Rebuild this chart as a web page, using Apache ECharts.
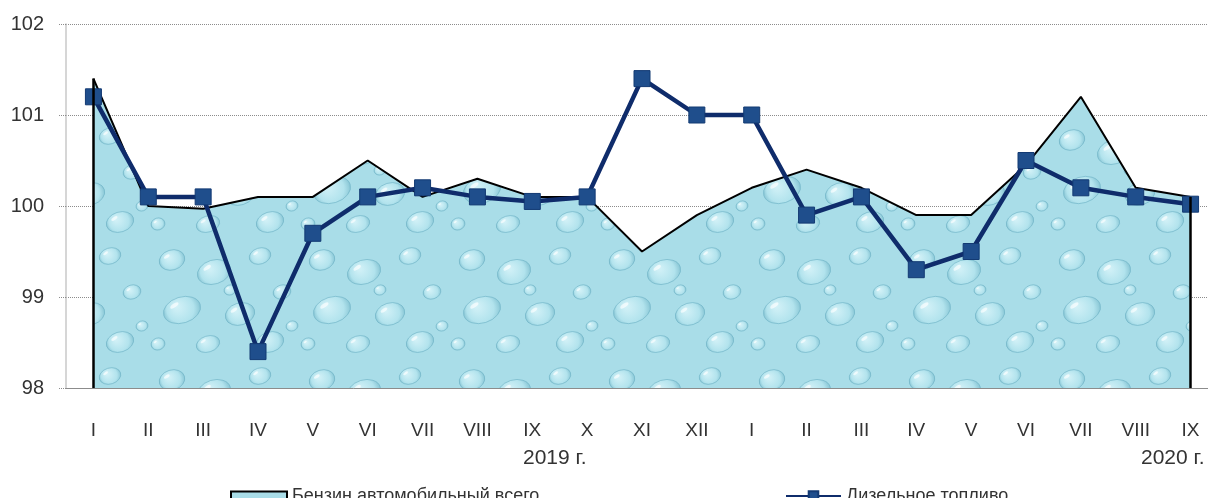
<!DOCTYPE html>
<html>
<head>
<meta charset="utf-8">
<script src="https://cdn.jsdelivr.net/npm/echarts@6/dist/echarts.min.js"></script>
<style>
  html, body { margin: 0; padding: 0; background: #fff; overflow: hidden; }
  #chart { width: 1218px; height: 498px; }
</style>
</head>
<body>
<div id="chart"></div>
<script>
// месяцы 2019 (I-XII) и 2020 (I-IX)
var months = ['I','II','III','IV','V','VI','VII','VIII','IX','X','XI','XII',
              'I','II','III','IV','V','VI','VII','VIII','IX'];
var petrol = [101.4, 100.0, 99.97, 100.1, 100.1, 100.5, 100.1, 100.3, 100.1, 100.1, 99.5, 99.9,
              100.2, 100.4, 100.2, 99.9, 99.9, 100.45, 101.2, 100.2, 100.1];
var diesel = [101.2, 100.1, 100.1, 98.4, 99.7, 100.1, 100.2, 100.1, 100.05, 100.1, 101.4, 101.0,
              101.0, 99.9, 100.1, 99.3, 99.5, 100.5, 100.2, 100.1, 100.02];
var seriesNames = ['Бензин автомобильный всего', 'Дизельное топливо'];
var yearLabels = ['2019 г.', '2020 г.'];
var yMin = 98, yMax = 102;

var FONT = '"Liberation Sans", Arial, sans-serif';
var TXT = '#333';

// текстура "капли воды" для заливки
function makeDrops() {
  var c = document.createElement('canvas');
  c.width = 150; c.height = 120;
  var g = c.getContext('2d');
  g.fillStyle = '#a9dde8';
  g.fillRect(0, 0, 150, 120);
  var drops = [[22,20,13,10],[64,32,17,12],[110,16,11,8],[32,70,19,13],[90,74,15,11],
               [132,52,9,7],[58,104,12,8],[120,102,14,10],[8,104,7,6],[80,50,6,5],[142,86,6,5]];
  drops.forEach(function (d) {
    var gr = g.createRadialGradient(d[0] - d[2] * 0.3, d[1] - d[3] * 0.3, 1, d[0], d[1], d[2]);
    gr.addColorStop(0, '#d2f1f7');
    gr.addColorStop(0.7, '#b2e3ed');
    gr.addColorStop(1, '#89c6d5');
    g.fillStyle = gr;
    g.beginPath();
    g.ellipse(d[0], d[1], d[2], d[3], -0.3, 0, Math.PI * 2);
    g.fill();
    g.strokeStyle = 'rgba(105,175,195,0.6)';
    g.lineWidth = 1;
    g.stroke();
    g.fillStyle = 'rgba(255,255,255,0.65)';
    g.beginPath();
    g.ellipse(d[0] - d[2] * 0.4, d[1] - d[3] * 0.35, d[2] * 0.25, d[3] * 0.15, -0.6, 0, Math.PI * 2);
    g.fill();
  });
  return c;
}
var drops = { image: makeDrops(), repeat: 'repeat' };

var chart = echarts.init(document.getElementById('chart'));
var last = petrol.length - 1;

chart.setOption({
  animation: false,
  textStyle: { fontFamily: FONT },
  grid: { left: 66, right: 0, top: 24, bottom: 110, containLabel: false },
  legend: [
    {
      left: 225, top: 482,
      itemWidth: 56, itemHeight: 9, itemGap: 5,
      textStyle: { fontSize: 18, color: TXT, fontFamily: FONT },
      data: [{ name: seriesNames[0], icon: 'rect',
               itemStyle: { color: drops, borderColor: '#000', borderWidth: 2 } }]
    },
    {
      left: 780, top: 482,
      itemWidth: 55, itemHeight: 12, itemGap: 4,
      textStyle: { fontSize: 18, color: TXT, fontFamily: FONT },
      data: [{ name: seriesNames[1] }]
    }
  ],
  xAxis: {
    type: 'category',
    data: months,
    boundaryGap: true,
    axisLine: { lineStyle: { color: '#8c8c8c', width: 1 } },
    axisTick: { length: 7, lineStyle: { color: '#8c8c8c' } },
    axisLabel: { margin: 33, fontSize: 19, color: TXT, fontFamily: FONT },
    splitLine: { show: false }
  },
  yAxis: {
    type: 'value',
    min: yMin, max: yMax, interval: 1,
    axisLine: { show: true, lineStyle: { color: '#c8c8c8', width: 1.5 } },
    axisTick: { show: true, length: 8, lineStyle: { color: '#8c8c8c', type: 'dotted' } },
    axisLabel: { margin: 22, fontSize: 20, color: TXT, fontFamily: FONT },
    splitLine: { show: true, lineStyle: { color: '#8c8c8c', type: 'dotted', width: 1 } }
  },
  graphic: [
    { type: 'text', left: 523, top: 448,
      style: { text: yearLabels[0], fontSize: 21, fill: TXT, fontFamily: FONT } },
    { type: 'text', left: 1141, top: 448,
      style: { text: yearLabels[1], fontSize: 21, fill: TXT, fontFamily: FONT } }
  ],
  series: [
    {
      name: seriesNames[0],
      type: 'line',
      data: petrol,
      symbol: 'none',
      lineStyle: { color: '#000', width: 2 },
      itemStyle: { color: '#a9dde8', borderColor: '#000' },
      areaStyle: { color: drops, opacity: 1, origin: 'start' },
      z: 2,
      markLine: {
        silent: true,
        symbol: 'none',
        label: { show: false },
        lineStyle: { color: '#000', width: 2.5, type: 'solid' },
        data: [
          [{ coord: [0, yMin] }, { coord: [0, petrol[0]] }],
          [{ coord: [last, yMin] }, { coord: [last, petrol[last]] }]
        ]
      }
    },
    {
      name: seriesNames[1],
      type: 'line',
      data: diesel,
      symbol: 'rect',
      symbolSize: 16,
      lineStyle: { color: '#0f2c6b', width: 4.5 },
      itemStyle: { color: '#1f4e8c', borderColor: '#133a73', borderWidth: 1 },
      z: 3
    }
  ]
});
</script>
</body>
</html>
